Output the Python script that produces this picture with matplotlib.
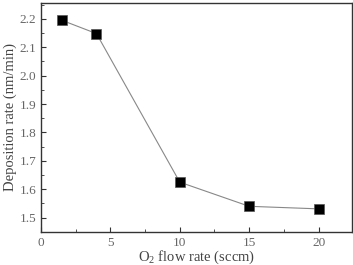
import matplotlib
matplotlib.use("Agg")
import matplotlib.pyplot as plt
from matplotlib.ticker import MultipleLocator

flow = [1.5, 4, 10, 15, 20]
rate = [2.195, 2.148, 1.625, 1.54, 1.531]

plt.rcParams['font.family'] = ['Liberation Serif', 'DejaVu Serif']
plt.rcParams['mathtext.fontset'] = 'custom'
plt.rcParams['mathtext.rm'] = 'Liberation Serif'

fig = plt.figure(figsize=(3.53, 2.65), dpi=100)
ax = fig.add_axes([0.116, 0.125, 0.881, 0.864])
ax.plot(flow, rate, '-', color='#888888', lw=0.8, zorder=1)
ax.plot(flow, rate, 's', color='black', markersize=7, markeredgecolor='#555555', markeredgewidth=0.5, zorder=2)
ax.set_xlim(0, 22.4)
ax.set_ylim(1.45, 2.256)
ax.xaxis.set_major_locator(MultipleLocator(5))
ax.xaxis.set_minor_locator(MultipleLocator(2.5))
ax.yaxis.set_minor_locator(MultipleLocator(0.05))
ax.set_yticks([1.5, 1.6, 1.7, 1.8, 1.9, 2.0, 2.1, 2.2])
ax.tick_params(which='both', direction='in', color='#333333', labelcolor='#666666', labelsize=9.5)
ax.tick_params(which='major', length=3.5)
ax.tick_params(which='minor', length=2)
for s in ax.spines.values():
    s.set_color('#333333')
    s.set_linewidth(1.0)
ax.set_xlabel(r'O$_2$ flow rate (sccm)', fontsize=10.5, color='#444444', labelpad=0)
ax.set_ylabel('Deposition rate (nm/min)', fontsize=10.5, color='#444444', labelpad=2)
fig.savefig('out.png', dpi=100)
